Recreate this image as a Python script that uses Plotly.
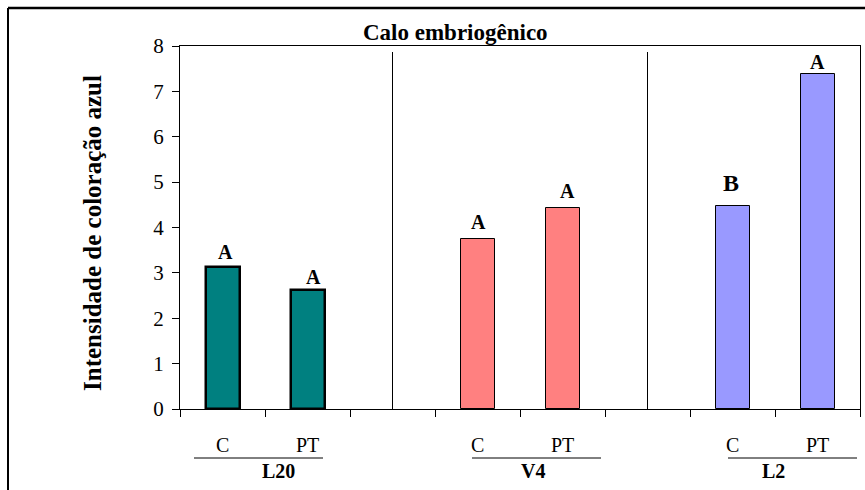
import plotly.graph_objects as go

# Data
groups = ["L20", "V4", "L2"]
treatments = ["C", "PT"]
values = [3.12, 2.62, 3.74, 4.44, 4.48, 7.38]
letters = ["A", "A", "A", "A", "B", "A"]
colors = ["#008080", "#008080", "#FF8080", "#FF8080", "#9999FF", "#9999FF"]
outline_widths = [2.5, 2.5, 1, 1, 1, 1]
y_ticks = [0, 1, 2, 3, 4, 5, 6, 7, 8]

W, H = 865, 490
L, R, T, B = 180, 860, 46, 409  # plot area in pixels
FONT = "Times New Roman"


def px_x(p):
    return (p - L) / (R - L)


def px_y(p):
    return (B - p) / (B - T)


# each group occupies 3 slots: C, PT, spacer
xpos = []
for gi in range(len(groups)):
    for ti in range(len(treatments)):
        xpos.append(gi * 3 + ti)

fig = go.Figure()
fig.add_trace(go.Bar(
    x=xpos, y=values, width=0.4,
    marker=dict(color=colors, line=dict(color="black", width=outline_widths)),
    showlegend=False, hoverinfo="x+y",
))

# significance letters above the bars
letter_sizes = [20, 20, 20, 20, 24, 20]
letter_shift = [2, 0, 4, 4, 8, -1]
letter_xshift = [3, 6, 1, 5, -2, 0]
annotations = []
for x, v, t, fs, ys, xs in zip(xpos, values, letters, letter_sizes, letter_shift, letter_xshift):
    annotations.append(dict(
        x=x, y=v, xref="x", yref="y", text=f"<b>{t}</b>", showarrow=False,
        yanchor="bottom", yshift=ys, xshift=xs,
        font=dict(family=FONT, size=fs, color="black"),
    ))

# treatment labels under the axis
for i, x in enumerate(xpos):
    annotations.append(dict(
        x=x, y=px_y(445), xref="x", yref="paper", text=treatments[i % 2],
        showarrow=False, yanchor="middle",
        font=dict(family=FONT, size=20, color="black"),
    ))

# group labels with an underline above each
underline_px = [(194, 323), (472, 601), (728, 857)]
label_cx = [260, 533, 787]
shapes = []
for g, (a, b), cx in zip(groups, underline_px, label_cx):
    shapes.append(dict(type="line", xref="paper", yref="paper",
                       x0=px_x(a), x1=px_x(b), y0=px_y(458), y1=px_y(458),
                       line=dict(color="black", width=1)))
    annotations.append(dict(
        x=px_x(cx), y=px_y(471), xref="paper", yref="paper",
        text=f"<b>{g}</b>", showarrow=False, yanchor="middle",
        font=dict(family=FONT, size=20, color="black"),
    ))

# vertical separators between groups
for gi in range(1, len(groups)):
    sx = gi * 3 - 1
    shapes.append(dict(type="line", xref="x", yref="paper",
                       x0=sx, x1=sx, y0=0, y1=px_y(52),
                       line=dict(color="black", width=1)))

# outer frame (top and left edges)
shapes.append(dict(type="line", xref="paper", yref="paper",
                   x0=px_x(8), x1=px_x(W), y0=px_y(8), y1=px_y(8),
                   line=dict(color="black", width=2.5)))
shapes.append(dict(type="line", xref="paper", yref="paper",
                   x0=px_x(8), x1=px_x(8), y0=px_y(8), y1=px_y(H),
                   line=dict(color="black", width=2)))

# title and y-axis title
annotations.append(dict(
    x=px_x(455), y=px_y(32), xref="paper", yref="paper",
    text="<b>Calo embriogênico</b>", showarrow=False, yanchor="middle",
    font=dict(family=FONT, size=23, color="black"),
))
annotations.append(dict(
    x=px_x(92), y=px_y(233), xref="paper", yref="paper",
    text="<b>Intensidade de coloração azul</b>", showarrow=False,
    textangle=-90, xanchor="center", yanchor="middle",
    font=dict(family=FONT, size=25, color="black"),
))

n_slots = len(groups) * 3 - 1
boundaries = [i - 0.5 for i in range(n_slots + 1)]

fig.update_layout(
    width=W, height=H,
    margin=dict(l=L, r=W - R, t=T, b=H - B),
    plot_bgcolor="white", paper_bgcolor="white",
    font=dict(family=FONT, color="black"),
    annotations=annotations, shapes=shapes,
    xaxis=dict(range=[-0.5, n_slots - 0.5], tickvals=boundaries,
               showticklabels=False, ticks="outside", ticklen=7,
               tickcolor="black", showline=True, linecolor="black",
               linewidth=1, mirror=True, showgrid=False, zeroline=False),
    yaxis=dict(range=[0, 8], tickvals=y_ticks, ticks="outside", ticklen=7,
               ticklabelstandoff=4,
               tickcolor="black", showline=True, linecolor="black",
               linewidth=1, mirror=True, showgrid=False, zeroline=False,
               tickfont=dict(family=FONT, size=21, color="black")),
    bargap=0,
)

fig.write_html("out.html")
